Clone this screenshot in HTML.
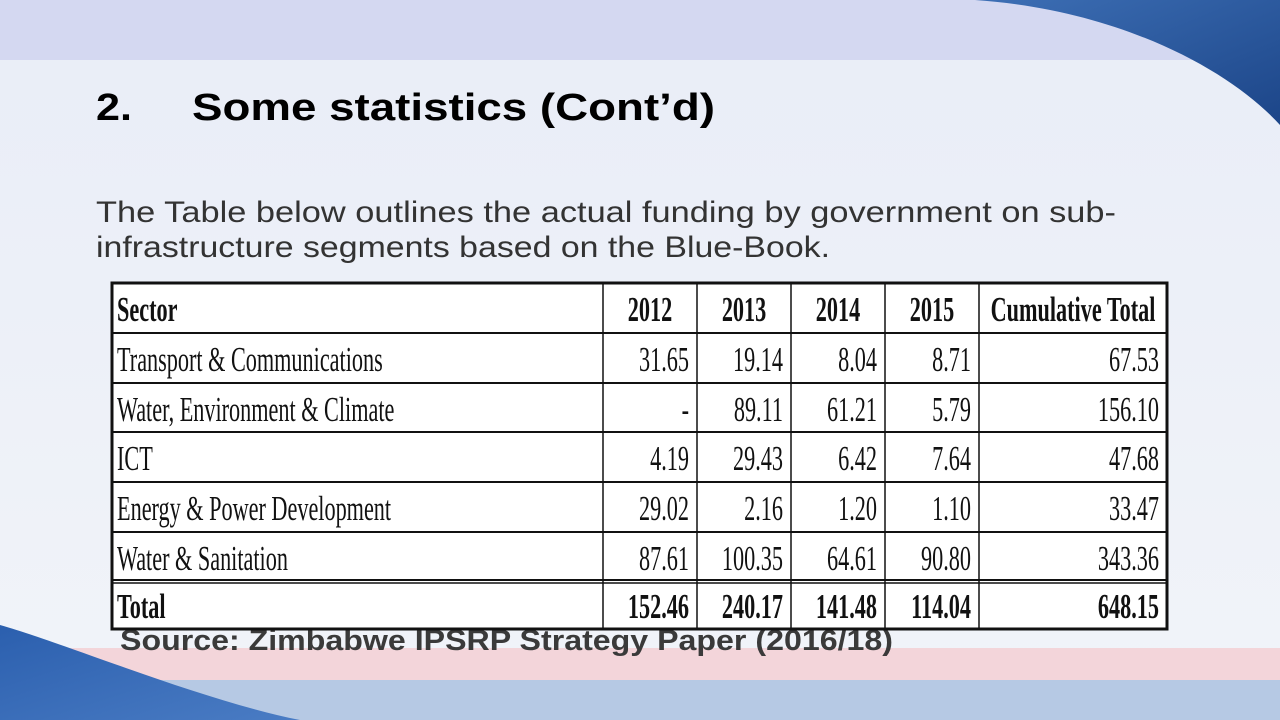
<!DOCTYPE html>
<html><head><meta charset="utf-8">
<style>
html,body{margin:0;padding:0;width:1280px;height:720px;overflow:hidden;background:#eef1f7}
svg{display:block}
</style></head>
<body>
<svg id="slide" width="1280" height="720" viewBox="0 0 1280 720" xmlns="http://www.w3.org/2000/svg">
  <defs>
    <linearGradient id="bodyg" x1="0" y1="0" x2="0" y2="1">
      <stop offset="0" stop-color="#e9edf7"/><stop offset="1" stop-color="#f1f4f9"/>
    </linearGradient>
    <linearGradient id="blueTR" x1="0" y1="0" x2="1" y2="1">
      <stop offset="0" stop-color="#3d6fb5"/><stop offset="1" stop-color="#1c4588"/>
    </linearGradient>
    <linearGradient id="blueBL" x1="0" y1="0" x2="1" y2="1">
      <stop offset="0" stop-color="#2b5fae"/><stop offset="1" stop-color="#4a7cc4"/>
    </linearGradient>
  </defs>
  <rect x="0" y="0" width="1280" height="720" fill="url(#bodyg)"/>
  <rect x="0" y="0" width="1280" height="60" fill="#d4d8f1"/>
  <path d="M975,0 C1120,10 1230,70 1280,125 L1280,0 Z" fill="url(#blueTR)"/>
  <rect x="0" y="648" width="1280" height="32" fill="#f3d5da"/>
  <rect x="0" y="680" width="1280" height="40" fill="#b6c9e4"/>
  <path d="M0,625 C70,645 200,700 300,720 L0,720 Z" fill="url(#blueBL)"/>

  <text x="96" y="120" font-family="Liberation Sans, sans-serif" font-weight="bold" font-size="38" fill="#000">
    <tspan textLength="36" lengthAdjust="spacingAndGlyphs">2.</tspan>
    <tspan x="192" textLength="523" lengthAdjust="spacingAndGlyphs">Some statistics (Cont’d)</tspan>
  </text>
  <text x="96" y="222" font-family="Liberation Sans, sans-serif" font-size="30" fill="#333" textLength="1020" lengthAdjust="spacingAndGlyphs">The Table below outlines the actual funding by government on sub-</text>
  <text x="96" y="257" font-family="Liberation Sans, sans-serif" font-size="30" fill="#333" textLength="734" lengthAdjust="spacingAndGlyphs">infrastructure segments based on the Blue-Book.</text>
  <text x="120" y="650" font-family="Liberation Sans, sans-serif" font-weight="bold" font-size="29" fill="#3a3a3a" textLength="773" lengthAdjust="spacingAndGlyphs">Source: Zimbabwe IPSRP Strategy Paper (2016/18)</text>
  <g id="tbl"></g>
</svg>
<script>
const headers = ["Sector","2012","2013","2014","2015","Cumulative Total"];
const sectors = ["Transport & Communications","Water, Environment & Climate","ICT","Energy & Power Development","Water & Sanitation"];
const v2012 = ["31.65","-","4.19","29.02","87.61"];
const v2013 = ["19.14","89.11","29.43","2.16","100.35"];
const v2014 = ["8.04","61.21","6.42","1.20","64.61"];
const v2015 = ["8.71","5.79","7.64","1.10","90.80"];
const vCum = ["67.53","156.10","47.68","33.47","343.36"];
const totals = ["Total","152.46","240.17","141.48","114.04","648.15"];

const NS = "http://www.w3.org/2000/svg";
const g = document.getElementById("tbl");
const colX = [112,603,697,791,885,979,1167];
const rowY = [283,333,383,432,482,532,580,629];
const SX = 0.635;

function mk(tag, attrs){ const e=document.createElementNS(NS,tag); for(const k in attrs) e.setAttribute(k,attrs[k]); g.appendChild(e); return e; }

const bg = mk("rect",{x:112,y:283,width:1055,height:346,fill:"#fff"});



const rows = [headers];
for (let i=0;i<sectors.length;i++) rows.push([sectors[i],v2012[i],v2013[i],v2014[i],v2015[i],vCum[i]]);
rows.push(totals);

rows.forEach((r,ri)=>{
  const bold = (ri===0 || ri===rows.length-1);
  r.forEach((txt,ci)=>{
    const right = ci>0 && ri>0;
    const center = ci>0 && ri===0;
    let x;
    if (ci===0) x = colX[0]+5;
    else if (center) x = (colX[ci]+colX[ci+1])/2;
    else x = colX[ci+1]-8;
    const t = mk("text",{
      x:(x/SX).toFixed(1), y:rowY[ri]+38,
      transform:"scale("+SX+",1)",
      "font-family":"Liberation Serif, serif",
      "font-size":"35",
      "font-weight":bold?"bold":"normal",
      "text-anchor": ci===0 ? "start" : (center ? "middle" : "end"),
      fill:"#111"
    });
    t.textContent = txt;
    
    
  });
});

for (let i=1;i<rowY.length-1;i++){
  const l = mk("line",{x1:112,x2:1167,y1:rowY[i],y2:rowY[i],stroke:"#111","stroke-width":2});
  
  
}
const dbl = mk("line",{x1:112,x2:1167,y1:rowY[rowY.length-2]+3,y2:rowY[rowY.length-2]+3,stroke:"#111","stroke-width":1.5});


for (let i=1;i<colX.length-1;i++){
  const l = mk("line",{x1:colX[i],x2:colX[i],y1:283,y2:629,stroke:"#111","stroke-width":1.5});
  
  
}
const border = mk("rect",{x:112,y:283,width:1055,height:346,fill:"none",stroke:"#111","stroke-width":3});


</script>
</body></html>
